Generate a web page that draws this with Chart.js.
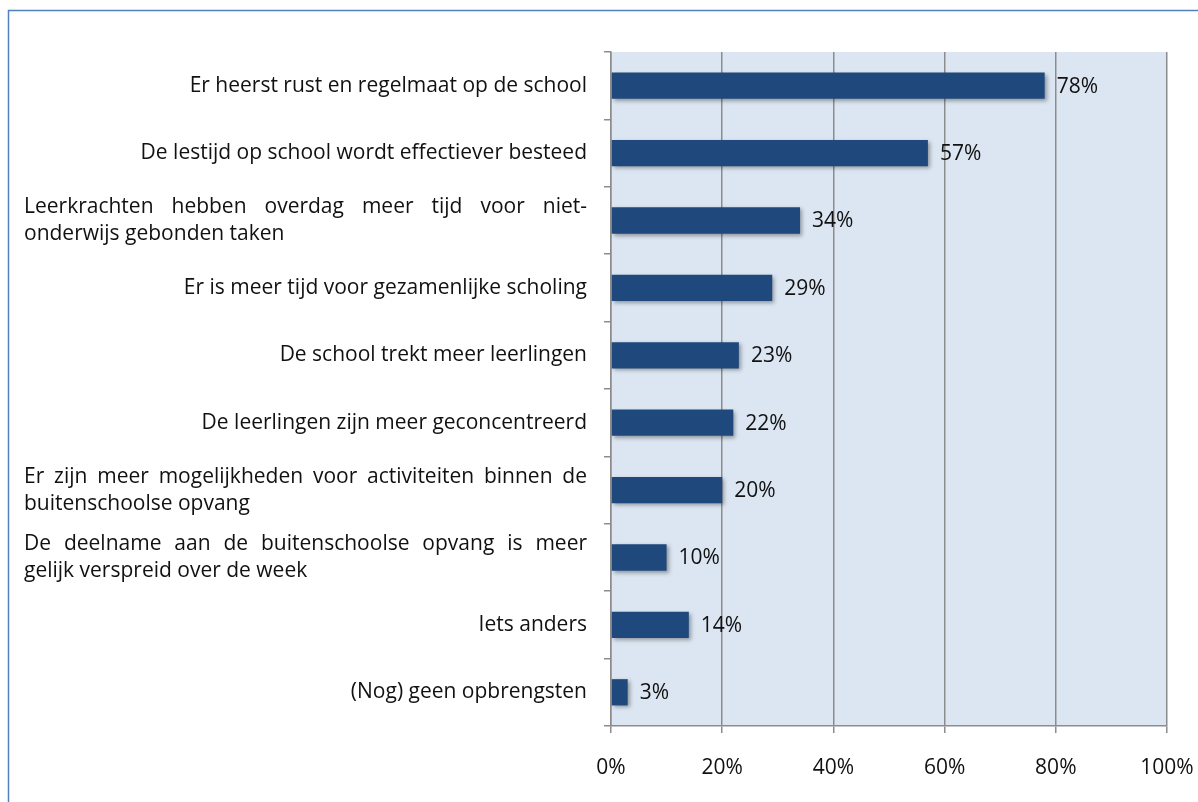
<!DOCTYPE html>
<html>
<head>
<meta charset="utf-8">
<script src="https://cdn.jsdelivr.net/npm/chart.js@4.4.0/dist/chart.umd.min.js"></script>
<style>
  html, body { margin: 0; padding: 0; background: #fff; }
</style>
</head>
<body>
<canvas id="chart" width="1198" height="802"></canvas>
<script>
const categories = [
  ['Er heerst rust en regelmaat op de school'],
  ['De lestijd op school wordt effectiever besteed'],
  ['Leerkrachten hebben overdag meer tijd voor niet-', 'onderwijs gebonden taken'],
  ['Er is meer tijd voor gezamenlijke scholing'],
  ['De school trekt meer leerlingen'],
  ['De leerlingen zijn meer geconcentreerd'],
  ['Er zijn meer mogelijkheden voor activiteiten binnen de', 'buitenschoolse opvang'],
  ['De deelname aan de buitenschoolse opvang is meer', 'gelijk verspreid over de week'],
  ['Iets anders'],
  ['(Nog) geen opbrengsten']
];
const values = [78, 57, 34, 29, 23, 22, 20, 10, 14, 3];
const xTicks = [0, 20, 40, 60, 80, 100];

const FAMILY = '"Open Sans"';
const SIZE = 21;
const FONT = SIZE + 'px ' + FAMILY;
const TEXT = '#111';
const GRID = '#8c8c8c';

// achtergrond van het plotvlak + kader
const backgroundPlugin = {
  id: 'plotBg',
  beforeDraw(chart) {
    const { ctx, chartArea: a } = chart;
    ctx.save();
    ctx.fillStyle = '#fff';
    ctx.fillRect(0, 0, chart.width, chart.height);
    ctx.fillStyle = '#dce6f2';
    ctx.fillRect(a.left, a.top, a.right - a.left, a.bottom - a.top);
    ctx.strokeStyle = '#4f81bd';
    ctx.lineWidth = 1.5;
    ctx.strokeRect(8.5, 10.5, 1400, 1000);
    ctx.restore();
  }
};

// schaduw onder de balken
const shadowPlugin = {
  id: 'barShadow',
  beforeDatasetsDraw(chart) {
    const ctx = chart.ctx;
    ctx.save();
    ctx.shadowColor = 'rgba(0,0,0,0.35)';
    ctx.shadowBlur = 4;
    ctx.shadowOffsetX = 2;
    ctx.shadowOffsetY = 2;
  },
  afterDatasetsDraw(chart) {
    chart.ctx.restore();
  }
};

// waardelabels naast de balken
const valueLabels = {
  id: 'valueLabels',
  afterDatasetsDraw(chart) {
    const ctx = chart.ctx;
    const meta = chart.getDatasetMeta(0);
    ctx.save();
    ctx.font = FONT;
    ctx.fillStyle = TEXT;
    ctx.textAlign = 'left';
    ctx.textBaseline = 'middle';
    meta.data.forEach((bar, i) => {
      ctx.fillText(values[i] + '%', bar.x + 12, bar.y + 1);
    });
    ctx.restore();
  }
};

// categorielabels, meerregelige labels uitgevuld
const categoryLabels = {
  id: 'categoryLabels',
  afterDraw(chart) {
    const ctx = chart.ctx;
    const y = chart.scales.y;
    const left = 24, right = 587, lh = 27;
    ctx.save();
    ctx.font = FONT;
    ctx.fillStyle = TEXT;
    ctx.textBaseline = 'middle';
    categories.forEach((lines, i) => {
      const cy = y.getPixelForValue(i);
      if (lines.length === 1) {
        ctx.textAlign = 'right';
        ctx.fillText(lines[0], right, cy);
        return;
      }
      const y0 = cy - (lines.length - 1) * lh / 2;
      lines.forEach((line, j) => {
        const ly = y0 + j * lh;
        ctx.textAlign = 'left';
        if (j === lines.length - 1) {
          ctx.fillText(line, left, ly);
          return;
        }
        const words = line.split(' ');
        const wordsW = words.reduce((s, w) => s + ctx.measureText(w).width, 0);
        const gap = (right - left - wordsW) / (words.length - 1);
        let x = left;
        words.forEach(w => {
          ctx.fillText(w, x, ly);
          x += ctx.measureText(w).width + gap;
        });
      });
    });
    ctx.restore();
  }
};

new Chart(document.getElementById('chart'), {
  type: 'bar',
  data: {
    labels: categories,
    datasets: [{
      data: values,
      backgroundColor: '#1f497d',
      borderWidth: 0,
      categoryPercentage: 1,
      barPercentage: 0.39
    }]
  },
  options: {
    indexAxis: 'y',
    responsive: false,
    animation: false,
    devicePixelRatio: 1,
    layout: { padding: { top: 52, right: 31, left: 0, bottom: 0 } },
    plugins: {
      legend: { display: false },
      tooltip: { enabled: false }
    },
    scales: {
      x: {
        min: 0,
        max: 100,
        afterBuildTicks(scale) {
          scale.ticks = xTicks.map(v => ({ value: v }));
        },
        afterFit(scale) {
          scale.height = 76;
          scale.paddingRight = 0;
          scale.paddingLeft = 0;
        },
        ticks: {
          font: { family: FAMILY, size: SIZE },
          color: TEXT,
          padding: 22,
          callback: v => v + '%'
        },
        grid: { color: GRID, lineWidth: 1.5, tickLength: 7 },
        border: { color: GRID, width: 1.5 }
      },
      y: {
        afterFit(scale) { scale.width = 611; },
        ticks: { display: false },
        grid: {
          offset: true,
          drawOnChartArea: false,
          color: GRID,
          lineWidth: 1.5,
          tickLength: 7
        },
        border: { color: GRID, width: 1.5 }
      }
    }
  },
  plugins: [backgroundPlugin, shadowPlugin, valueLabels, categoryLabels]
});
</script>
</body>
</html>
